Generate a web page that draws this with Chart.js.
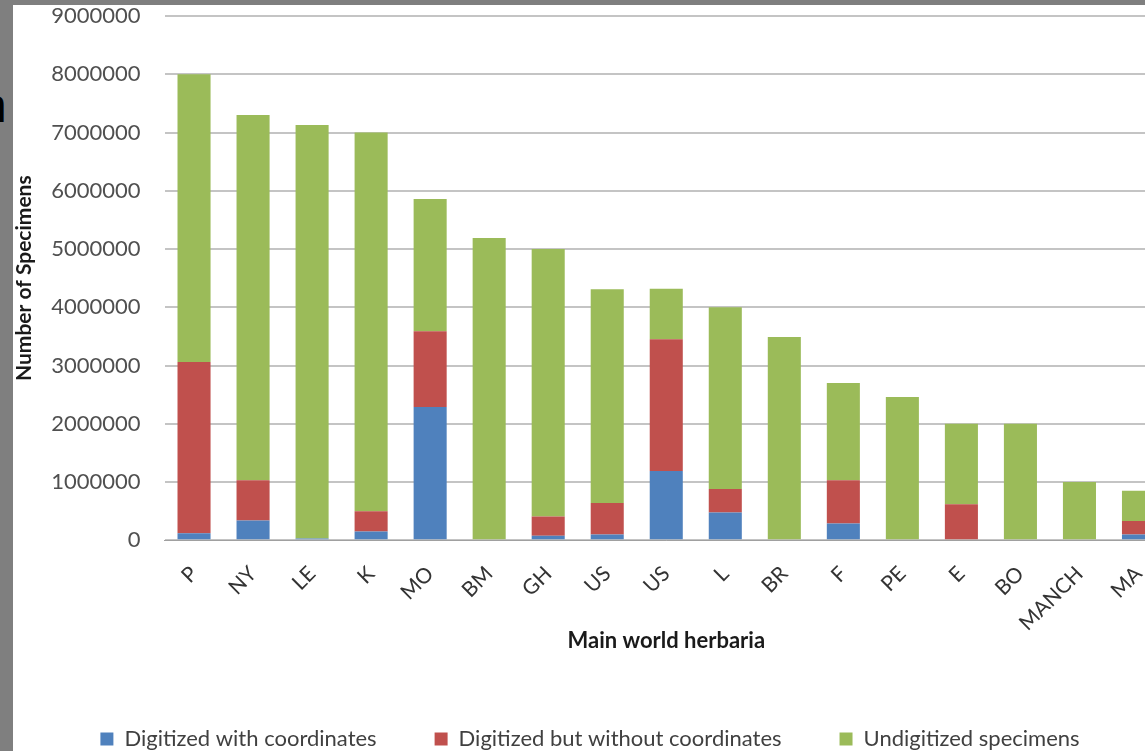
<!DOCTYPE html>
<html>
<head>
<meta charset="utf-8">
<script src="https://cdn.jsdelivr.net/npm/chart.js@4"></script>
<style>
  html, body { margin: 0; padding: 0; overflow: hidden; background: #7f7f7f; width: 1145px; height: 751px; }
  #frame { position: absolute; left: 13px; top: 5px; width: 1180px; height: 755px; background: #fff; }
  #cut { position: absolute; left: -20px; top: 78px; font: 48px "Liberation Sans", sans-serif; color: #000; }
</style>
</head>
<body>
<span id="cut">n</span>
<div id="frame"><canvas id="bars"></canvas></div>
<script>
const herbaria = ['P', 'NY', 'LE', 'K', 'MO', 'BM', 'GH', 'US', 'US', 'L', 'BR', 'F', 'PE', 'E', 'BO', 'MANCH', 'MA'];

// stacked bottom to top
const withCoords    = [120000, 340000, 30000, 150000, 2290000, 0, 80000, 100000, 1190000, 480000, 0, 290000, 0, 0, 0, 0, 100000];
const noCoords      = [2940000, 690000, 0, 350000, 1300000, 0, 330000, 540000, 2260000, 400000, 0, 740000, 0, 620000, 0, 0, 230000];
const undigitized   = [4940000, 6270000, 7100000, 6500000, 2270000, 5190000, 4590000, 3670000, 870000, 3120000, 3490000, 1670000, 2460000, 1380000, 2000000, 1000000, 520000];

const yTicks = [0, 1000000, 2000000, 3000000, 4000000, 5000000, 6000000, 7000000, 8000000, 9000000];

const canvas = document.getElementById('bars');
canvas.style.width = '1180px';
canvas.style.height = '755px';
canvas.width = 1180;
canvas.height = 755;

const font = 'Lato, "Open Sans", sans-serif';

new Chart(canvas.getContext('2d'), {
    type: 'bar',
    data: {
        labels: herbaria,
        datasets: [
            { label: 'Digitized with coordinates', data: withCoords, backgroundColor: '#4f81bd' },
            { label: 'Digitized but without coordinates', data: noCoords, backgroundColor: '#c0504d' },
            { label: 'Undigitized specimens', data: undigitized, backgroundColor: '#9bbb59' }
        ]
    },
    options: {
        responsive: false,
        animation: false,
        layout: { padding: { left: -1, right: 25, top: 0, bottom: 0 } },
        datasets: { bar: { categoryPercentage: 1, barPercentage: 0.56 } },
        plugins: {
            tooltip: { enabled: false },
            legend: {
                position: 'bottom',
                labels: {
                    boxWidth: 13, boxHeight: 13, padding: 58,
                    color: '#404040',
                    font: { family: font, size: 22 }
                }
            }
        },
        scales: {
            x: {
                stacked: true,
                grid: { display: false, drawTicks: false },
                border: { color: '#a0a0a0' },
                ticks: { color: '#333', maxRotation: 45, minRotation: 45, padding: 21, font: { family: font, size: 21 } },
                title: { display: true, text: 'Main world herbaria', color: '#1a1a1a', padding: { top: -29, bottom: 16 }, font: { family: font, size: 22, weight: 'bold' } }
            },
            y: {
                stacked: true,
                min: 0, max: 9000000,
                afterBuildTicks: axis => { axis.ticks = yTicks.map(v => ({ value: v })); },
                grid: { color: '#c4c4c4', lineWidth: 2, drawTicks: true, tickLength: 24, tickColor: 'rgba(0,0,0,0)' },
                border: { display: false },
                ticks: { color: '#505050', padding: 0, font: { family: font, size: 22, lineHeight: 1 }, callback: v => String(v) },
                title: { display: true, text: 'Number of Specimens', color: '#1a1a1a', padding: { top: 0, bottom: 14 }, font: { family: font, size: 21, weight: 'bold' } }
            }
        }
    }
});
</script>
</body>
</html>
